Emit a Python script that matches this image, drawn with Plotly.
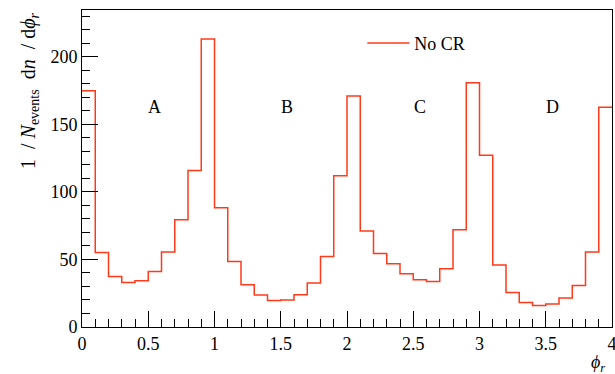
import plotly.graph_objects as go

bin_width = 0.1
values = [175.0, 55.2, 37.4, 33.0, 34.2, 41.1, 55.5, 79.4, 115.8, 213.2,
          88.2, 48.5, 31.3, 23.7, 19.7, 20.0, 23.9, 32.5, 52.2, 111.9,
          171.1, 71.0, 54.4, 46.8, 39.4, 35.0, 33.7, 43.1, 72.0, 180.9,
          127.2, 45.9, 25.6, 18.2, 16.0, 17.0, 21.4, 30.8, 55.5, 162.7]
region_labels = ["A", "B", "C", "D"]
region_x = [0.55, 1.55, 2.55, 3.55]
region_y = [163, 163, 163, 163]
x_ticks = [0, 0.5, 1, 1.5, 2, 2.5, 3, 3.5, 4]
x_tick_text = ["0", "0.5", "1", "1.5", "2", "2.5", "3", "3.5", "4"]
y_ticks = [0, 50, 100, 150, 200]

edges = [round(i * bin_width, 2) for i in range(len(values) + 1)]
ys = values + [values[-1]]

FONT = "Liberation Serif, serif"
RED = "#ff3a1a"
F = dict(size=18, color="black", family=FONT)

fig = go.Figure()
fig.add_trace(go.Scatter(x=edges, y=ys, mode="lines", line=dict(shape="hv", color=RED, width=1.5),
                         name="No CR"))

for lab, xx, yy in zip(region_labels, region_x, region_y):
    fig.add_annotation(x=xx, y=yy, text=lab, showarrow=False, font=F)

fig.add_annotation(xref="paper", yref="paper", x=-0.099, y=1.0, xanchor="center", yanchor="top",
                   textangle=-90, showarrow=False,
                   text="1&nbsp;&nbsp;/&nbsp;<i>N</i><sub>events</sub>&nbsp;&nbsp;d<i>n</i>&nbsp;&nbsp;/&nbsp;d<i>ϕ</i><sub><i>r</i></sub>",
                   font=dict(size=20, color="black", family=FONT))
fig.add_annotation(xref="paper", yref="paper", x=0.99, y=-0.072, xanchor="right", yanchor="top",
                   showarrow=False, text="<i>ϕ</i><sub><i>r</i></sub>", font=F)

fig.update_layout(
    width=615, height=374,
    margin=dict(l=82, r=3, t=10, b=47, autoexpand=False),
    paper_bgcolor="white", plot_bgcolor="white",
    font=F,
    showlegend=True,
    legend=dict(x=0.529, y=0.953, xanchor="left", yanchor="top", bgcolor="rgba(0,0,0,0)", font=F,
                itemwidth=42),
    xaxis=dict(range=[0, 4], tickvals=x_ticks, ticktext=x_tick_text, ticks="inside", ticklen=16,
               tickfont=F, automargin=False, ticklabeloverflow="allow",
               tickcolor="black", showline=True, linecolor="black", linewidth=1, mirror=True,
               showgrid=False, zeroline=False,
               minor=dict(ticks="inside", dtick=0.1, ticklen=8, tickcolor="black", showgrid=False)),
    yaxis=dict(range=[0, 234.7], tickvals=y_ticks, ticks="inside", ticklen=16,
               tickfont=F, automargin=False, ticklabeloverflow="allow",
               tickcolor="black", showline=True, linecolor="black", linewidth=1, mirror=True,
               showgrid=False, zeroline=False,
               minor=dict(ticks="inside", dtick=10, ticklen=8, tickcolor="black", showgrid=False)),
)

fig.write_html("out.html", config={"displayModeBar": False},
               post_script="document.body.style.margin='0px';")
